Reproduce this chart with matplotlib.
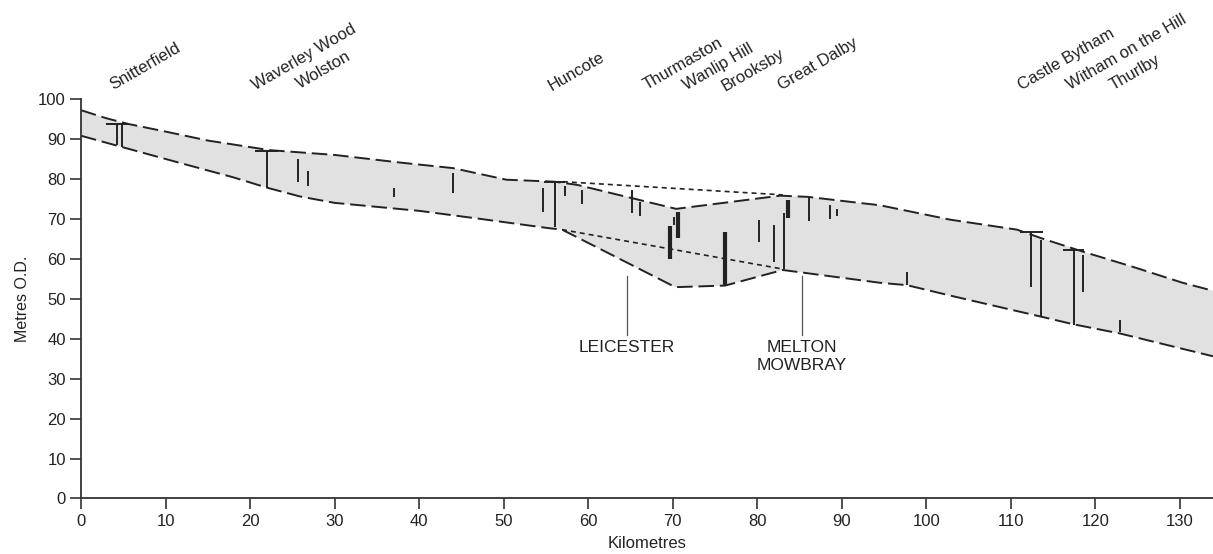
import matplotlib.pyplot as plt

# terrace envelope (km along profile, metres O.D.)
upper_km = [0, 2.96, 5.6, 10.1, 15, 22.3, 30, 37.7, 44, 50.3, 56, 58.7, 70.4, 82.7, 86, 90,
            94.5, 102.8, 110.7, 113.8, 118.5, 124.4, 130.3, 133.9]
upper_m = [97.2, 95.2, 93.75, 91.8, 89.6, 87.2, 86.0, 84.1, 82.7, 79.8, 79.3, 78.5, 72.5, 75.8,
           75.5, 74.5, 73.4, 69.8, 67.3, 65.0, 61.8, 58.0, 54.0, 52.0]
lower_km = [0, 4.8, 11.7, 18, 22, 25.9, 30, 40, 47.2, 55.2, 56.9, 70.3, 76.2, 83, 94.5, 97.7,
            102.8, 113.6, 117.4, 122.9, 133.9]
lower_m = [90.8, 88.0, 84.0, 80.4, 77.8, 75.6, 74.0, 72.0, 70.0, 67.7, 67.3, 52.9, 53.3, 57.2,
           54.0, 53.4, 50.8, 45.5, 43.6, 41.3, 35.6]

# dotted projections across the Leicester - Melton Mowbray section
dot_upper_km = [57.0, 83.0]
dot_upper_m = [79.3, 76.0]
dot_lower_km = [56.9, 83.1]
dot_lower_m = [67.3, 57.4]

# borehole / section records
bar_km = [4.2, 4.8, 21.95, 25.7, 26.8, 37.05, 44.0, 54.7, 56.05, 57.2, 59.3, 65.2, 66.1,
          69.7, 70.1, 70.65, 76.2, 80.2, 82.0, 83.1, 83.65, 86.1, 88.6, 89.45, 97.7,
          112.4, 113.6, 117.4, 118.5, 122.9]
bar_top = [93.75, 93.75, 87.1, 84.9, 82.0, 77.8, 81.4, 77.7, 79.2, 78.1, 77.1, 77.1, 74.3,
           68.1, 70.4, 71.8, 66.8, 69.75, 68.5, 71.4, 74.75, 75.4, 73.5, 72.4, 56.75,
           66.7, 64.75, 62.25, 61.0, 44.75]
bar_bottom = [88.5, 88.0, 77.8, 79.3, 78.25, 75.4, 76.4, 71.8, 68.0, 75.6, 73.75, 71.4, 70.6,
              59.9, 68.5, 65.2, 53.25, 64.3, 59.3, 57.4, 70.2, 69.5, 69.9, 70.6, 53.5,
              52.9, 45.4, 43.5, 51.8, 41.6]
bar_thick = [0, 0, 0, 0, 0, 0, 0, 0, 0, 0, 0, 0, 0,
             1, 0, 1, 1, 0, 0, 0, 1, 0, 0, 0, 0,
             0, 0, 0, 0, 0]

cap_left = [2.96, 20.6, 54.8, 111.1, 116.1]
cap_right = [5.6, 23.3, 57.2, 113.8, 118.6]
cap_m = [93.75, 87.1, 79.2, 66.7, 62.25]

place_names = ["Snitterfield", "Waverley Wood", "Wolston", "Huncote", "Thurmaston",
               "Wanlip Hill", "Brooksby", "Great Dalby", "Castle Bytham",
               "Witham on the Hill", "Thurlby"]
place_km = [3.8, 20.6, 25.9, 55.7, 66.9, 71.6, 76.2, 82.9, 111.3, 117.0, 122.1]
place_m = [102.2, 102.2, 102.5, 102.0, 102.2, 102.2, 102.0, 102.2, 102.2, 102.2, 102.2]

town_names = ["LEICESTER", "MELTON\nMOWBRAY"]
town_km = [64.6, 85.3]

ink = "#222222"
font = ["Liberation Sans", "DejaVu Sans"]

fig = plt.figure(figsize=(12.13, 5.54), dpi=100)
ax = fig.add_axes([0.0668, 0.1002, 0.9332, 0.7211])

ax.fill(upper_km + lower_km[::-1], upper_m + lower_m[::-1], color="#e1e1e1", lw=0, zorder=1)
ax.plot(upper_km, upper_m, color=ink, lw=1.4, dashes=(8, 3), zorder=2)
ax.plot(lower_km, lower_m, color=ink, lw=1.4, dashes=(8, 3), zorder=2)
ax.plot(dot_upper_km, dot_upper_m, color=ink, lw=1.2, dashes=(3, 2.4), zorder=2)
ax.plot(dot_lower_km, dot_lower_m, color=ink, lw=1.2, dashes=(3, 2.4), zorder=2)

for k, t, b, th in zip(bar_km, bar_top, bar_bottom, bar_thick):
    ax.plot([k, k], [b, t], color=ink, lw=3.0 if th else 1.4,
            solid_capstyle="butt", zorder=3)
ax.hlines(cap_m, cap_left, cap_right, color=ink, lw=1.4, zorder=3)

for name, k, m in zip(place_names, place_km, place_m):
    ax.text(k, m, name, rotation=30, rotation_mode="anchor", ha="left", va="baseline",
            fontsize=12, family=font, color=ink, clip_on=False)

for name, k in zip(town_names, town_km):
    ax.plot([k, k], [41, 55.6], color="#555555", lw=0.9, zorder=2)
    ax.text(k, 39.6, name, ha="center", va="top", fontsize=12.5, family=font,
            color=ink, linespacing=1.2)

ax.set_xlim(0, 133.9)
ax.set_ylim(0, 100)
ax.set_xticks(range(0, 131, 10))
ax.set_yticks(range(0, 101, 10))
ax.spines["top"].set_visible(False)
ax.spines["right"].set_visible(False)
for s in ("left", "bottom"):
    ax.spines[s].set_color("#333333")
    ax.spines[s].set_linewidth(1.3)
ax.tick_params(direction="out", length=8, width=1.2, color="#333333", pad=3,
               labelsize=12, labelcolor=ink)
for lab in ax.get_xticklabels() + ax.get_yticklabels():
    lab.set_family(font)

ax.set_xlabel("Kilometres", fontsize=12, family=font, color=ink, labelpad=5)
ax.set_ylabel("Metres O.D.", fontsize=11.5, family=font, color=ink, labelpad=6)

fig.savefig("out.png", dpi=100)
